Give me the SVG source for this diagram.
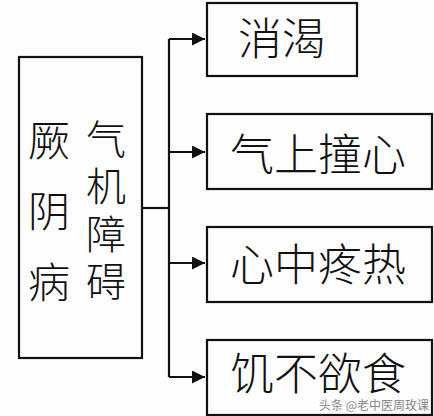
<svg xmlns="http://www.w3.org/2000/svg" width="434" height="416" viewBox="0 0 434 416">
<defs>
<style>
.box{fill:#fdfdfd;stroke:#111;stroke-width:2.2}
.t{font-family:"Noto Sans CJK SC","Noto Sans CJK JP",sans-serif;font-weight:300;fill:#111;text-anchor:middle;dominant-baseline:central}
.c{fill:none;stroke:#111;stroke-width:2.2}
</style>
<marker id="ah" markerWidth="13" markerHeight="13" refX="13" refY="6.5" orient="auto" markerUnits="userSpaceOnUse">
<path d="M0,0 L13,6.5 L0,13 Z" fill="#111"/>
</marker>
</defs>
<rect width="434" height="416" fill="#fdfdfd"/>
<g id="connectors">
<path class="c" d="M142,208 H169"/>
<path class="c" d="M169,39 V377"/>
<path class="c" d="M169,39 H205" marker-end="url(#ah)"/>
<path class="c" d="M169,152 H205" marker-end="url(#ah)"/>
<path class="c" d="M169,263 H205" marker-end="url(#ah)"/>
<path class="c" d="M169,377 H205" marker-end="url(#ah)"/>
</g>
<g id="root">
<rect class="box" x="19" y="57" width="123" height="301"/>
<text class="t" font-size="42" x="49" y="137">厥</text>
<text class="t" font-size="42" x="49" y="208">阴</text>
<text class="t" font-size="42" x="49" y="279">病</text>
<text class="t" font-size="40"><tspan x="106" y="137">气</tspan><tspan x="106" y="184">机</tspan><tspan x="106" y="232">障</tspan><tspan x="106" y="279">碍</tspan></text>
</g>
<g id="n1">
<rect class="box" x="207" y="3" width="150" height="73"/>
<text class="t" font-size="44" x="282" y="36">消渴</text>
</g>
<g id="n2">
<rect class="box" x="207" y="114" width="225" height="75"/>
<text class="t" font-size="44" x="318" y="152">气上撞心</text>
</g>
<g id="n3">
<rect class="box" x="207" y="227" width="225" height="75"/>
<text class="t" font-size="44" x="318" y="262">心中疼热</text>
</g>
<g id="n4">
<rect class="box" x="207" y="340" width="225" height="75"/>
<text class="t" font-size="44" x="318" y="371">饥不欲食</text>
</g>
<text x="374" y="404" font-family="Noto Sans CJK SC,sans-serif" font-size="12" fill="#888" text-anchor="middle" dominant-baseline="central">头条 @老中医周玫课</text>
</svg>
